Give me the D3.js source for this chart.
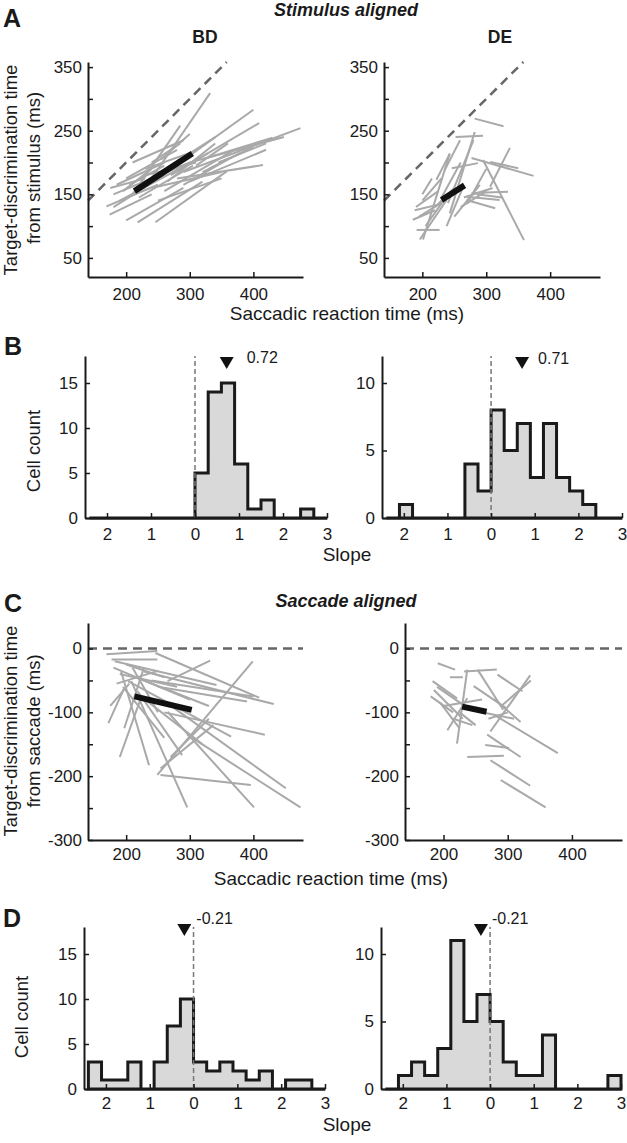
<!DOCTYPE html>
<html><head><meta charset="utf-8">
<script src="https://cdn.jsdelivr.net/npm/d3@7"></script>
<style>
body{margin:0;background:#fff}
svg{display:block}
text{font-family:"Liberation Sans",Arial,Helvetica,sans-serif;fill:#1a1a1a}
</style>
</head><body>
<svg id="c" width="627" height="1143"></svg>
<script>
// ---------------- DATA ----------------
const rtDomain = [140, 478];
const rtTicks = [200, 300, 400];
const stimTicks = [50, 100, 150, 200, 250, 300, 350];
const stimLabels = [50, 150, 250, 350];
const sacTicks = [-300, -250, -200, -150, -100, -50, 0];
const sacLabels = [-300, -200, -100, 0];

// per-cell regression segments [rt1, t1, rt2, t2]
const segA_BD = [
[233,165,332,309],[210,150,285,258],[250,175,400,283],[270,180,409,262],[290,185,474,254],
[300,200,448,240],[320,205,430,239],[280,175,415,196],[246,106,358,186],[218,106,320,170],
[200,109,290,160],[169,131,250,165],[174,118,240,150],[180,150,300,200],[185,165,260,200],
[190,140,330,215],[240,160,350,185],[230,190,300,215],[200,175,280,220],[260,155,370,220],
[180,130,260,180],[270,195,340,240],[300,170,420,220],[320,185,380,215],[210,200,290,235],
[220,145,305,195],[195,155,240,190],[240,200,285,230],[310,195,360,230],[250,140,350,175],
[330,190,400,225],[205,165,260,195],[345,200,420,230],[265,170,340,230],[230,180,310,200],
[175,160,230,175],[255,205,300,245],[290,165,360,205]
];
const segA_DE = [
[282,269,327,257],[252,240,295,242],[243,120,282,248],[277,207,374,179],[306,201,350,191],
[295,204,359,78],[306,162,337,223],[277,152,334,154],[269,141,314,128],[269,146,321,141],
[191,94,227,94],[196,79,238,141],[201,79,243,214],[222,173,243,214],[235,188,259,235],
[240,136,280,235],[246,191,287,199],[238,100,264,162],[190,130,225,155],[195,115,235,140],
[188,125,230,135],[200,140,230,175],[205,100,240,150],[260,130,300,155],[265,145,310,160],
[270,135,300,190],[285,150,325,145],[250,115,290,165],[200,150,215,175],[220,130,250,160],
[230,145,260,200],[185,110,220,125]
];
const segC_BD = [
[169,-9,249,-4],[177,-17,249,-17],[246,-7,409,-77],[265,-51,332,-19],[249,-198,399,-20],
[228,-36,432,-87],[250,-60,390,-83],[260,-100,418,-135],[275,-93,451,-219],[296,-135,474,-249],
[265,-99,401,-249],[254,-198,396,-214],[208,-51,296,-249],[192,-36,236,-183],[190,-170,223,-78],
[172,-117,197,-62],[197,-125,228,-30],[203,-51,365,-138],[182,-20,342,-57],[218,-67,288,-167],
[254,-188,337,-120],[180,-30,300,-80],[190,-40,280,-60],[200,-25,260,-45],[185,-55,250,-35],
[240,-50,400,-75],[215,-45,330,-90],[230,-80,320,-150],[195,-60,260,-140],[270,-170,330,-110],
[210,-30,250,-100],[175,-90,205,-55]
];
const segC_DE = [
[191,-23,218,-33],[232,-36,283,-33],[284,-41,323,-67],[273,-130,335,-42],[253,-33,293,-96],
[237,-33,221,-149],[183,-51,221,-78],[206,-128,237,-78],[247,-59,297,-93],[279,-104,378,-164],
[268,-135,320,-170],[265,-151,302,-156],[237,-170,294,-168],[273,-175,335,-215],[289,-206,359,-249],
[180,-75,215,-100],[190,-60,240,-95],[195,-85,225,-125],[185,-65,230,-110],[200,-90,260,-80],
[215,-110,245,-120],[225,-100,250,-120],[260,-100,310,-110],[280,-80,320,-115],[270,-110,300,-100],
[290,-90,336,-50],[210,-45,230,-45]
];
const meanA_BD = [213,155,304,214];
const meanA_DE = [230,141,266,164];
const meanC_BD = [213,-75,303,-96];
const meanC_DE = [229,-91,267,-99];

// slope histograms
const slopeDomain = [-2.5, 3];
const binEdges = [-2.4,-2.1,-1.8,-1.5,-1.2,-0.9,-0.6,-0.3,0,0.3,0.6,0.9,1.2,1.5,1.8,2.1,2.4,2.7,3.0];
const countsB_BD = [0,0,0,0,0,0,0,0,5,14,15,6,1,2,0,0,1,0];
const countsB_DE = [0,1,0,0,0,0,4,2,8,5,7,3,7,3,2,1,0,0];
const countsD_BD = [3,1,1,3,0,3,7,10,3,2,3,2,1,2,0,1,1,0];
const countsD_DE = [0,1,2,1,3,11,5,7,5,2,1,1,4,0,0,0,0,1];
const medianB = [0.72, 0.71];
const medianD = [-0.21, -0.21];
const slopeTicks = [-2,-1,0,1,2,3];
const slopeTickLabels = ["2","1","0","1","2","3"];

// ---------------- DRAW ----------------
const INK = "#1a1a1a";
const svg = d3.select("#c");

function styleAxis(g){
  g.select(".domain").attr("stroke", INK).attr("stroke-width", 2);
  g.selectAll(".tick line").attr("stroke", INK).attr("stroke-width", 1.5);
  g.selectAll(".tick text").attr("font-size", 17).attr("fill", INK)
   .attr("font-family", '"Liberation Sans",Arial,sans-serif');
}

function scatterPanel(o){
  const x = d3.scaleLinear().domain(rtDomain).range(o.xr);
  const y = d3.scaleLinear().domain(o.ydom).range(o.yr);
  const g = svg.append("g");
  g.selectAll("line.seg").data(o.segs).join("line").attr("class","seg")
    .attr("x1", d => x(d[0])).attr("y1", d => y(d[1]))
    .attr("x2", d => x(d[2])).attr("y2", d => y(d[3]))
    .attr("stroke", "#a9a9a9").attr("stroke-width", 2);
  g.append("line")
    .attr("x1", x(o.dash[0])).attr("y1", y(o.dash[1]))
    .attr("x2", x(o.dash[2])).attr("y2", y(o.dash[3]))
    .attr("stroke", "#666").attr("stroke-width", 2.5).attr("stroke-dasharray", "9,6");
  g.append("line")
    .attr("x1", x(o.mean[0])).attr("y1", y(o.mean[1]))
    .attr("x2", x(o.mean[2])).attr("y2", y(o.mean[3]))
    .attr("stroke", "#111").attr("stroke-width", 6);
  const ya = d3.axisLeft(y).tickValues(o.yTicks)
    .tickFormat(d => o.yLabels.includes(d) ? String(d) : "")
    .tickSize(-5).tickSizeOuter(0).tickPadding(6);
  g.append("g").attr("transform", `translate(${o.xr[0]},0)`).call(ya).call(styleAxis);
  const xa = d3.axisBottom(x).tickValues(rtTicks).tickSize(-5).tickSizeOuter(0).tickPadding(o.xpad);
  g.append("g").attr("transform", `translate(0,${o.yr[0]})`).call(xa).call(styleAxis);
}

function histPanel(o){
  const x = d3.scaleLinear().domain(slopeDomain).range(o.xr);
  const y = d3.scaleLinear().domain([0, o.ymax]).range(o.yr);
  const g = svg.append("g");
  const pts = [[binEdges[0], 0]];
  o.counts.forEach((c, i) => { pts.push([binEdges[i], c], [binEdges[i+1], c]); });
  pts.push([binEdges[binEdges.length-1], 0]);
  g.append("path").attr("d", d3.line().x(d => x(d[0])).y(d => y(d[1]))(pts) + "Z")
    .attr("fill", "#d9d9d9").attr("stroke", INK).attr("stroke-width", 3)
    .attr("stroke-linejoin", "miter");
  g.append("line").attr("x1", x(0)).attr("x2", x(0)).attr("y1", y(0)).attr("y2", y(o.ymax))
    .attr("stroke", "#777").attr("stroke-width", 1.5).attr("stroke-dasharray", "5,3");
  const ya = d3.axisLeft(y).tickValues(o.yTicks).tickSize(-5).tickSizeOuter(0).tickPadding(7);
  g.append("g").attr("transform", `translate(${o.xr[0]},0)`).call(ya).call(styleAxis);
  const xa = d3.axisBottom(x).tickValues(slopeTicks)
    .tickFormat((d, i) => slopeTickLabels[i]).tickSize(-5).tickSizeOuter(0).tickPadding(o.xpad);
  g.append("g").attr("transform", `translate(0,${o.yr[0]})`).call(xa).call(styleAxis);
  const mx = x(o.med);
  g.append("path").attr("d", `M${mx-7},${o.triTop}L${mx+7},${o.triTop}L${mx},${o.triTop+12}Z`).attr("fill", "#111");
  g.append("text").attr("x", mx + o.labOff).attr("y", o.labY).attr("font-size", 16)
    .text(o.med.toFixed(2));
}

scatterPanel({xr:[88,303], ydom:[20,358], yr:[277,62], yTicks:stimTicks, yLabels:stimLabels,
  segs:segA_BD, mean:meanA_BD, dash:[140,140,358,358], xpad:11});
scatterPanel({xr:[384,600], ydom:[20,358], yr:[277,62], yTicks:stimTicks, yLabels:stimLabels,
  segs:segA_DE, mean:meanA_DE, dash:[140,140,358,358], xpad:11});
scatterPanel({xr:[88,303], ydom:[-300,40], yr:[840,623], yTicks:sacTicks, yLabels:sacLabels,
  segs:segC_BD, mean:meanC_BD, dash:[140,0,478,0], xpad:8});
scatterPanel({xr:[405,622], ydom:[-300,40], yr:[840,623], yTicks:sacTicks, yLabels:sacLabels,
  segs:segC_DE, mean:meanC_DE, dash:[140,0,478,0], xpad:8});

histPanel({xr:[85,327], yr:[518,356], ymax:18, yTicks:[0,5,10,15], counts:countsB_BD,
  med:medianB[0], triTop:357, labOff:20, labY:363, xpad:10});
histPanel({xr:[382,622], yr:[518,356], ymax:12, yTicks:[0,5,10], counts:countsB_DE,
  med:medianB[1], triTop:357, labOff:16, labY:364, xpad:10});
histPanel({xr:[84,325], yr:[1089,927], ymax:18, yTicks:[0,5,10,15], counts:countsD_BD,
  med:medianD[0], triTop:924, labOff:12, labY:924, xpad:8});
histPanel({xr:[381,621], yr:[1089,927], ymax:12, yTicks:[0,5,10], counts:countsD_DE,
  med:medianD[1], triTop:924, labOff:11, labY:924, xpad:8});

// ---------------- TEXT ----------------
function txt(x, y, s, size, opts = {}){
  const t = svg.append("text").attr("x", x).attr("y", y).attr("font-size", size).text(s);
  if (opts.anchor) t.attr("text-anchor", opts.anchor);
  if (opts.bold) t.attr("font-weight", "bold");
  if (opts.italic) t.attr("font-style", "italic");
  if (opts.rot) t.attr("transform", `rotate(-90,${x},${y})`);
  return t;
}
txt(3, 27, "A", 25, {bold:true});
txt(346, 16, "Stimulus aligned", 18, {anchor:"middle", bold:true, italic:true});
txt(205, 43, "BD", 17.5, {anchor:"middle", bold:true});
txt(500, 43, "DE", 17.5, {anchor:"middle", bold:true});
txt(17, 170, "Target-discrimination time", 18.5, {anchor:"middle", rot:true});
txt(40, 168, "from stimulus (ms)", 18.5, {anchor:"middle", rot:true});
txt(347, 320, "Saccadic reaction time (ms)", 19, {anchor:"middle"});

txt(4, 355, "B", 25, {bold:true});
txt(40, 451, "Cell count", 18.5, {anchor:"middle", rot:true});
txt(347, 561, "Slope", 19, {anchor:"middle"});

txt(4, 612, "C", 25, {bold:true});
txt(346, 607, "Saccade aligned", 18, {anchor:"middle", bold:true, italic:true});
txt(17, 731, "Target-discrimination time", 18.5, {anchor:"middle", rot:true});
txt(40, 731, "from saccade (ms)", 18.5, {anchor:"middle", rot:true});
txt(331, 885, "Saccadic reaction time (ms)", 19, {anchor:"middle"});

txt(3, 927, "D", 25, {bold:true});
txt(28, 1017, "Cell count", 18.5, {anchor:"middle", rot:true});
txt(347, 1131, "Slope", 19, {anchor:"middle"});
</script>
</body></html>
